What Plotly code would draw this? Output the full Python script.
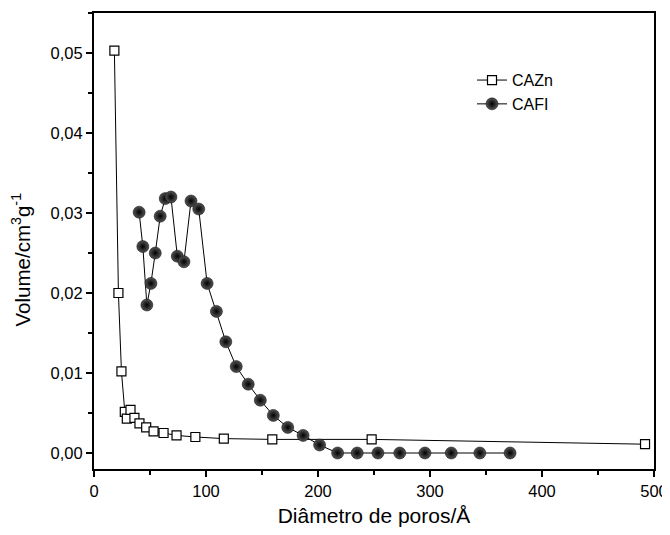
import plotly.graph_objects as go

# CAZn (open squares)
cazn_x = [18.2, 21.8, 24.5, 27.5, 29.3, 32.6, 36.1, 40.6, 46.6, 53.2, 62.1, 73.7, 90.5, 115.9, 159.2, 247.9, 492.0]
cazn_y = [0.0503, 0.0200, 0.0102, 0.00515, 0.0043, 0.0054, 0.0044, 0.0037, 0.0032, 0.0027, 0.0025, 0.0022, 0.0020, 0.0018, 0.0017, 0.0017, 0.0011]

# CAFI (filled spheres)
cafi_x = [40.3, 43.6, 47.2, 50.8, 54.7, 59.1, 63.6, 68.7, 74.4, 80.3, 86.6, 93.5, 101.0, 109.3, 117.7, 127.0,
          137.7, 148.5, 160.1, 173.0, 186.7, 201.4, 217.5, 235.0, 253.5, 273.0, 295.5, 319.0, 344.5, 371.5]
cafi_y = [0.0301, 0.0258, 0.0185, 0.0212, 0.0250, 0.0296, 0.0318, 0.0320, 0.0246, 0.0239, 0.0315, 0.0305, 0.0212,
          0.0177, 0.0139, 0.0108, 0.0086, 0.0066, 0.0047, 0.0032, 0.0022, 0.0010, 0.0, 0.0, 0.0, 0.0, 0.0, 0.0, 0.0, 0.0]

font_name = 'Liberation Sans, Arial, sans-serif'

fig = go.Figure()
fig.add_trace(go.Scatter(x=cazn_x, y=cazn_y, name='CAZn', mode='lines+markers',
                         line=dict(color='black', width=1),
                         marker=dict(symbol='square', size=9, color='white',
                                     line=dict(color='black', width=1.2))))
fig.add_trace(go.Scatter(x=cafi_x, y=cafi_y, name='CAFI', mode='lines+markers',
                         line=dict(color='black', width=1),
                         marker=dict(symbol='circle', size=12, color='#555555',
                                     gradient=dict(type='radial', color='black'),
                                     line=dict(color='black', width=0.5))))

axis_common = dict(showline=True, linecolor='black', linewidth=2, mirror=True,
                   ticks='outside', ticklen=6, tickwidth=1.5, tickcolor='black',
                   showgrid=False, zeroline=False, automargin=False,
                   tickfont=dict(family=font_name, size=16.5, color='black'),
                   minor=dict(ticks='outside', ticklen=4, tickwidth=1.5, tickcolor='black'))

fig.update_xaxes(range=[0, 500], dtick=100, minor_dtick=50,
                 title=dict(text='Diâmetro de poros/Å', font=dict(family=font_name, size=21, color='black'),
                            standoff=10),
                 **axis_common)
fig.update_yaxes(range=[-0.002, 0.055], tick0=0, dtick=0.01, minor_dtick=0.005, tickformat='.2f',
                 **axis_common)

# y title as a rotated annotation (sits a bit below the plot centre in the reference)
fig.add_annotation(text='Volume/cm<sup>3</sup>g<sup>-1</sup>', xref='paper', yref='paper',
                   x=-0.13, y=0.46, xanchor='center', yanchor='middle', textangle=-90,
                   showarrow=False, font=dict(family=font_name, size=20.5, color='black'))

# sized so the page (with the browser's body margin) fits the window without scrollbars
fig.update_layout(width=662, height=519, plot_bgcolor='white', paper_bgcolor='white',
                  separators=',.',
                  margin=dict(l=86, r=16, t=5, b=58),
                  legend=dict(x=0.675, y=0.89, xanchor='left', yanchor='top',
                              bgcolor='rgba(0,0,0,0)', tracegroupgap=0,
                              font=dict(family=font_name, size=16, color='black')),
                  showlegend=True)

fig.write_html('out.html')
